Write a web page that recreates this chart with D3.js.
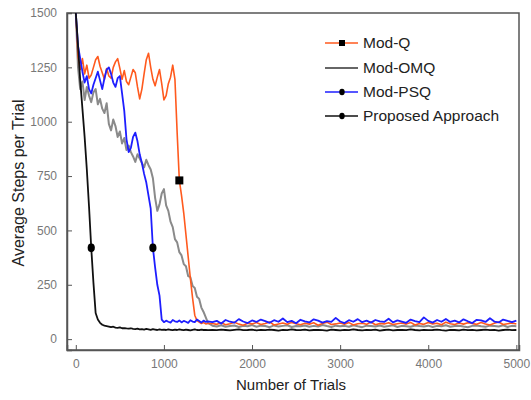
<!DOCTYPE html>
<html>
<head>
<meta charset="utf-8">
<script src="https://cdn.jsdelivr.net/npm/d3@7"></script>
<style>
  body { margin: 0; background: #fff; }
  text { font-family: "Liberation Sans", Arial, sans-serif; }
</style>
</head>
<body>
<div id="plot"></div>
<script>
//trial numbers: dense up to 1500, coarser afterwards
var earlyTrials = d3.range(0, 1501, 25);     // 61 points
var lateTrials = d3.range(1550, 5001, 50);   // 70 points
var trials = earlyTrials.concat(lateTrials);

var xTicks = [0, 1000, 2000, 3000, 4000, 5000];
var yTicks = [0, 250, 500, 750, 1000, 1250, 1500];

var seriesNames = ["Mod-Q", "Mod-OMQ", "Mod-PSQ", "Proposed Approach"];

var modQ = [
  1500, 1300, 1240, 1290, 1220, 1260, 1200, 1215, 1250, 1285,
  1300, 1255, 1225, 1195, 1245, 1210, 1200, 1250, 1275, 1290,
  1245, 1195, 1235, 1185, 1170, 1205, 1240, 1225, 1160, 1105,
  1150, 1220, 1285, 1315, 1250, 1195, 1165, 1205, 1240, 1175,
  1100, 1120, 1175, 1205, 1260, 1195, 950, 730, 660, 580,
  480, 380, 280, 190, 110, 85, 78, 72, 76, 70,
  72,
  72, 68, 75, 66, 71, 78, 69, 64, 73, 70,
  76, 67, 72, 79, 65, 70, 74, 68, 77, 71,
  66, 73, 69, 75, 64, 72, 78, 67, 70, 74,
  69, 76, 65, 71, 73, 68, 79, 66, 72, 70,
  75, 67, 71, 74, 69, 77, 65, 72, 68, 76,
  70, 73, 66, 78, 71, 67, 74, 69, 75, 72,
  68, 76, 70, 65, 73, 79, 67, 71, 74, 70
];

var modOMQ = [
  1500, 1250, 1150, 1185, 1100, 1160, 1120, 1090, 1135, 1150,
  1080, 1105, 1060, 1040, 1085, 990, 960, 1010, 980, 930,
  955, 900, 925, 870, 890, 860, 840, 815, 850, 830,
  810, 790, 825, 800, 780, 740, 650, 590, 620, 670,
  690, 615, 590, 540, 515, 460, 445, 400, 385, 345,
  335, 290, 285, 245, 235, 195, 185, 145, 125, 100,
  75,
  62, 58, 64, 57, 60, 63, 56, 61, 59, 65,
  57, 62, 60, 55, 63, 58, 61, 64, 56, 60,
  59, 63, 57, 61, 58, 65, 60, 56, 62, 59,
  61, 57, 64, 59, 55, 62, 60, 58, 63, 57,
  60, 64, 56, 61, 59, 57, 63, 60, 58, 62,
  56, 61, 59, 64, 57, 60, 62, 58, 55, 61,
  63, 59, 57, 62, 60, 58, 64, 56, 61, 59
];

var modPSQ = [
  1500, 1350, 1290, 1230, 1180, 1210, 1150, 1130, 1170, 1200,
  1230, 1190, 1150, 1200, 1240, 1250, 1220, 1180, 1160, 1200,
  1210, 1130, 1050, 920, 860, 880, 930, 950, 910, 850,
  810, 760, 720, 660, 600, 420, 330, 250, 200, 90,
  78, 85, 80, 76, 88, 82, 79, 86, 77, 84,
  80, 75, 87, 81, 78, 90, 83, 76, 85, 79,
  82,
  78, 84, 72, 88, 80, 76, 92, 81, 74, 86,
  79, 90, 83, 75, 87, 80, 95, 78, 84, 73,
  89, 82, 77, 91, 85, 76, 83, 79, 98, 81,
  74, 87, 80, 92, 78, 85, 76, 88, 82, 79,
  94, 77, 86, 81, 75, 90, 83, 78, 100, 84,
  76, 88, 80, 93, 79, 85, 77, 91, 82, 74,
  89, 86, 79, 96, 81, 77, 90, 84, 78, 85
];

var proposed = [
  1500, 1350, 1190, 1060, 930, 780, 610, 420, 260, 120,
  90, 75, 66, 62, 60, 58, 55, 57, 53, 52,
  54, 50, 51, 49, 48, 50, 47, 46, 48, 45,
  46, 44, 47, 45, 43, 46, 44, 42, 45, 43,
  44, 42, 45, 43, 41, 44, 42, 45, 43, 41,
  44, 42, 40, 43, 45, 42, 41, 44, 42, 43,
  41,
  43, 41, 44, 42, 40, 43, 45, 41, 42, 44,
  40, 43, 41, 44, 42, 39, 43, 41, 45, 42,
  41, 44, 40, 42, 43, 41, 39, 44, 42, 40,
  43, 41, 45, 42, 40, 43, 41, 44, 39, 42,
  44, 40, 42, 43, 41, 45, 42, 40, 43, 41,
  42, 44, 41, 39, 43, 42, 40, 44, 41, 43,
  40, 42, 44, 41, 43, 39, 42, 44, 41, 42
];

//one marker per series (trial where it sits), null = no marker
var markerTrials = [1175, null, 875, 175];
var markerShapes = ["square", null, "circle", "circle"];
var colors = ["#ff5a1e", "#8a8a8a", "#1e1eff", "#111111"];
var widths = [1.6, 2, 1.8, 1.8];

var margin = {top: 13, bottom: 50, left: 67, right: 12};
var width = 531 - margin.left - margin.right;
var height = 400 - margin.top - margin.bottom;

var svg = d3.select("#plot").append("svg")
    .attr("width", 531)
    .attr("height", 400);

var plot = svg.append("g")
    .attr("transform", "translate(" + margin.left + "," + margin.top + ")");

var x = d3.scaleLinear().domain([-100, 5030]).range([0, width]);
var y = d3.scaleLinear().domain([-50, 1500]).range([height, 0]);

//frame
plot.append("rect")
    .attr("width", width)
    .attr("height", height)
    .attr("fill", "none")
    .attr("stroke", "#555")
    .attr("stroke-width", 1.5);

var series = [modQ, modOMQ, modPSQ, proposed];
var drawOrder = [1, 0, 2, 3];

var line = d3.line()
    .x(function(d, i) { return x(trials[i]); })
    .y(function(d) { return y(d); });

drawOrder.forEach(function(k) {
    plot.append("path")
        .attr("d", line(series[k]))
        .attr("fill", "none")
        .attr("stroke", colors[k])
        .attr("stroke-width", widths[k])
        .attr("stroke-linejoin", "round");
});

//markers on the curves
function drawMarker(g, shape, cx, cy, s) {
    if (shape == "square") {
        g.append("rect")
            .attr("x", cx - s).attr("y", cy - s)
            .attr("width", 2 * s).attr("height", 2 * s)
            .attr("fill", "#000");
    } else {
        g.append("ellipse")
            .attr("cx", cx).attr("cy", cy)
            .attr("rx", s * 0.9).attr("ry", s * 1.1)
            .attr("fill", "#000");
    }
}

markerTrials.forEach(function(t, k) {
    if (t == null) return;
    var idx = trials.indexOf(t);
    drawMarker(plot, markerShapes[k], x(t), y(series[k][idx]), 4);
});

//axes with inward ticks
var xAxis = plot.append("g")
    .attr("transform", "translate(0," + height + ")")
    .call(d3.axisBottom(x).tickValues(xTicks).tickFormat(d3.format("d")).tickSize(-5).tickPadding(9));
var yAxis = plot.append("g")
    .call(d3.axisLeft(y).tickValues(yTicks).tickFormat(d3.format("d")).tickSize(-5).tickPadding(10));

[xAxis, yAxis].forEach(function(a) {
    a.select(".domain").attr("stroke", "#555").attr("stroke-width", 1.5);
    a.selectAll(".tick line").attr("stroke", "#555");
    a.selectAll(".tick text")
        .attr("fill", "#777")
        .style("font-size", "12px")
        .style("font-family", "'Liberation Sans', Arial, sans-serif");
});

//axis titles
svg.append("text")
    .attr("x", 291)
    .attr("y", 390)
    .attr("text-anchor", "middle")
    .attr("fill", "#222")
    .style("font-size", "15px")
    .text("Number of Trials");

svg.append("text")
    .attr("transform", "translate(24," + 183 + ") rotate(-90)")
    .attr("text-anchor", "middle")
    .attr("fill", "#222")
    .style("font-size", "16px")
    .text("Average Steps per Trial");

//legend
var legend = svg.append("g").attr("transform", "translate(325,43)");
var rowGap = [0, 25, 49, 73];

seriesNames.forEach(function(name, k) {
    var row = legend.append("g").attr("transform", "translate(0," + rowGap[k] + ")");
    row.append("line")
        .attr("x1", 0).attr("x2", 33)
        .attr("y1", 0).attr("y2", 0)
        .attr("stroke", k == 1 ? "#333" : colors[k])
        .attr("stroke-width", 1.3);
    if (markerShapes[k] != null)
        drawMarker(row, markerShapes[k], 17, 0, 3);
    row.append("text")
        .attr("x", 38)
        .attr("y", 5)
        .attr("fill", "#222")
        .style("font-size", "15.5px")
        .text(name);
});
</script>
</body>
</html>
